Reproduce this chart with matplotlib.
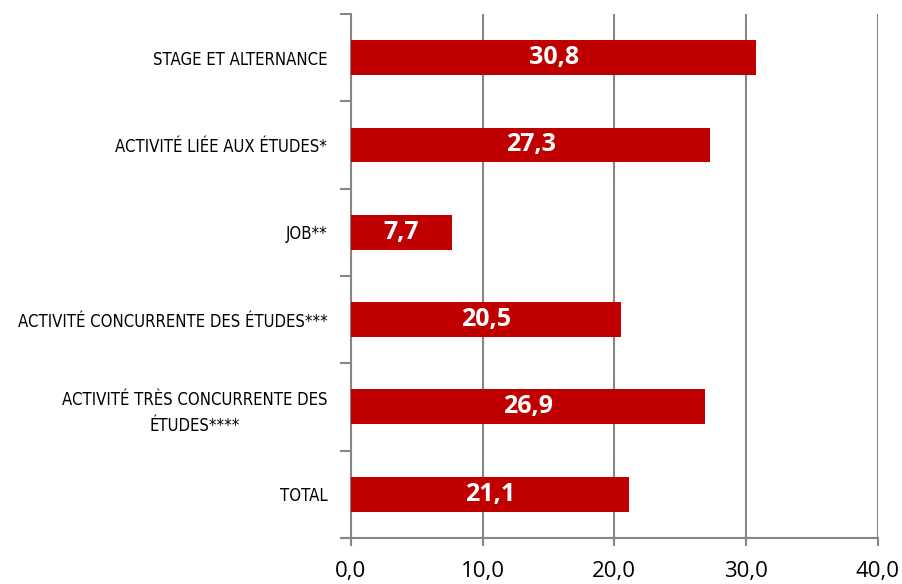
import matplotlib as mpl
mpl.use('Agg')
import matplotlib.pyplot as plt
import numpy as np

categories = ['STAGE ET ALTERNANCE',
              'ACTIVITÉ LIÉE AUX ÉTUDES*',
              'JOB**',
              'ACTIVITÉ CONCURRENTE DES ÉTUDES***',
              'ACTIVITÉ TRÈS CONCURRENTE DES\nÉTUDES****',
              'TOTAL']
values = [30.8, 27.3, 7.7, 20.5, 26.9, 21.1]
xticks = [0, 10, 20, 30, 40]

red = '#C00000'
grey = '#868686'

fig = plt.figure(figsize=(9.02, 5.84), dpi=100)
ax = fig.add_axes([0.389, 0.079, 0.584, 0.897])

y = np.arange(len(categories))
ax.barh(y, values, height=0.4, color=red, zorder=3)
for yi, v in zip(y, values):
    ax.text(v / 2, yi, f'{v:.1f}'.replace('.', ','), ha='center', va='center',
            color='white', fontsize=18, fontweight='bold', family='Open Sans', zorder=4)

ax.set_ylim(len(categories) - 0.5, -0.5)
ax.set_xlim(0, 40)
ax.set_yticks(y)
ax.set_yticklabels(categories, family='DejaVu Sans', stretch='condensed', fontsize=12,
                   multialignment='center', linespacing=1.6)
ax.set_yticks(np.arange(len(categories) + 1) - 0.5, minor=True)
ax.tick_params(axis='y', which='major', length=0, pad=17)
ax.tick_params(axis='y', which='minor', length=8, width=1.5, color=grey, direction='out')

ax.set_xticks(xticks)
ax.set_xticklabels([f'{t:.1f}'.replace('.', ',') for t in xticks], family='Open Sans', fontsize=16)
ax.tick_params(axis='x', length=6, width=1.5, color=grey, pad=11)
ax.grid(axis='x', color=grey, linewidth=1.5, zorder=0)

for s in ['top', 'right']:
    ax.spines[s].set_visible(False)
for s in ['left', 'bottom']:
    ax.spines[s].set_color(grey)
    ax.spines[s].set_linewidth(1.5)
ax.spines['bottom'].set_bounds(-0.6, 40)

plt.savefig('out.png', dpi=100)
